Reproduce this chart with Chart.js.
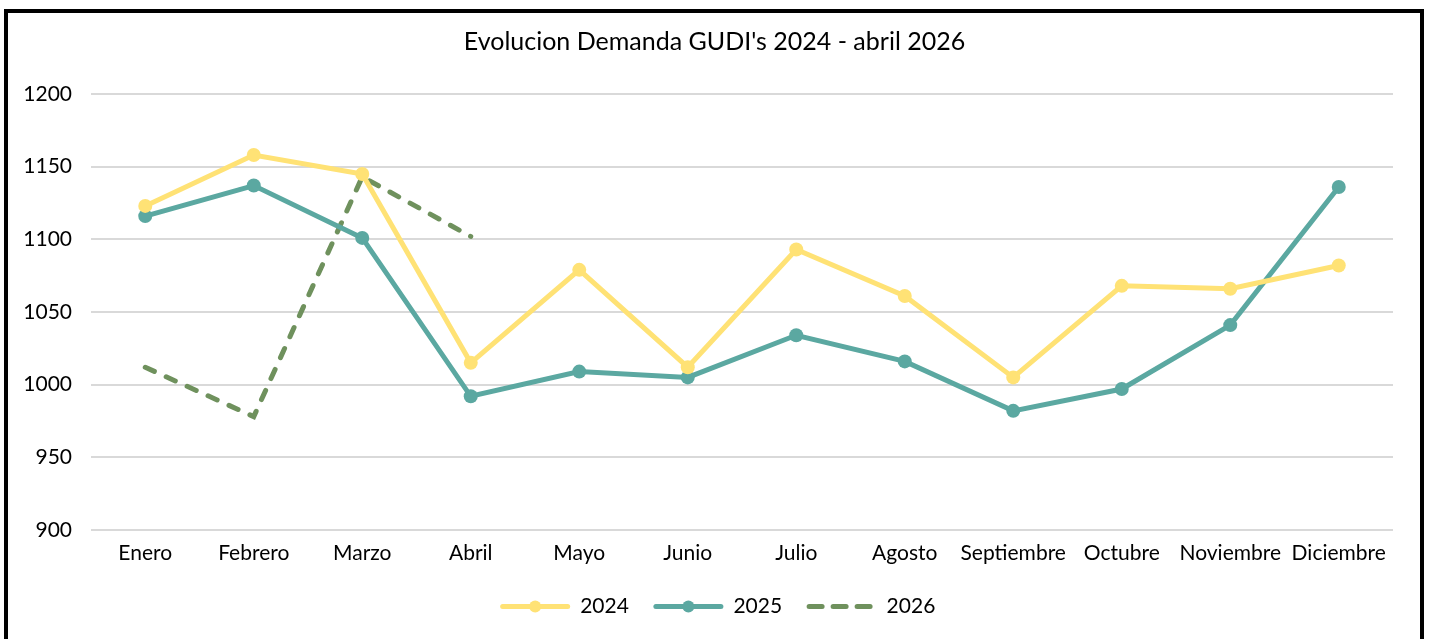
<!DOCTYPE html>
<html>
<head>
<meta charset="utf-8">
<script src="https://cdn.jsdelivr.net/npm/chart.js@4/dist/chart.umd.min.js"></script>
<style>
    html, body { margin: 0; padding: 0; background: #fff; overflow: hidden; }
    body { width: 1430px; height: 639px; position: relative; }
    .frame {
        position: absolute; left: 4px; top: 9px;
        width: 1412px; height: 660px;
        border: 4px solid #000;
    }
    .wrap { position: absolute; left: 0; top: 0; width: 1412px; height: 626px; }
</style>
</head>
<body>
<div class="frame">
    <div class="wrap"><canvas id="demandChart"></canvas></div>
</div>
<script>
// === Data ===
var months = ['Enero', 'Febrero', 'Marzo', 'Abril', 'Mayo', 'Junio', 'Julio',
              'Agosto', 'Septiembre', 'Octubre', 'Noviembre', 'Diciembre'];
var demand2024 = [1123, 1158, 1145, 1015, 1079, 1012, 1093, 1061, 1005, 1068, 1066, 1082];
var demand2025 = [1116, 1137, 1101, 992, 1009, 1005, 1034, 1016, 982, 997, 1041, 1136];
var demand2026 = [1012, 978, 1143, 1102];
var yTicks = [900, 950, 1000, 1050, 1100, 1150, 1200];

var FONT = "Lato, 'Open Sans', sans-serif";
var C2024 = '#ffe275';
var C2025 = '#5ba8a1';
var C2026 = '#6f915d';

// nudge title / legend so they sit where the original ones are
var TITLE_SHIFT = 14;
var LEGEND_SHIFT = 17;

var nudgeBoxes = {
    id: 'nudgeBoxes',
    afterUpdate: function(chart) {
        var lg = chart.legend;
        if (lg && lg.legendHitBoxes) {
            lg.left += LEGEND_SHIFT;
            lg.right += LEGEND_SHIFT;
            lg.legendHitBoxes.forEach(function(b) { b.left += LEGEND_SHIFT; });
        }
        var tb = chart.titleBlock;
        if (tb) {
            tb.left += TITLE_SHIFT;
            tb.right += TITLE_SHIFT;
        }
    }
};

// draws line + marker legend keys (Excel style) over the empty legend boxes
var legendKeys = {
    id: 'legendKeys',
    afterDraw: function(chart) {
        var legend = chart.legend;
        if (!legend || !legend.legendHitBoxes) return;
        var ctx = chart.ctx;
        legend.legendHitBoxes.forEach(function(box, i) {
            var ds = chart.data.datasets[i];
            var y = box.top + box.height / 2;
            var x0 = box.left + 3, x1 = box.left + 68;
            ctx.save();
            ctx.strokeStyle = ds.borderColor;
            ctx.lineWidth = 5;
            ctx.lineCap = 'round';
            ctx.setLineDash(ds.borderDash ? [13, 11] : []);
            ctx.beginPath();
            ctx.moveTo(x0, y);
            ctx.lineTo(x1, y);
            ctx.stroke();
            if (ds.pointRadius > 0) {
                ctx.setLineDash([]);
                ctx.fillStyle = ds.borderColor;
                ctx.beginPath();
                ctx.arc((x0 + x1) / 2, y, 6, 0, Math.PI * 2);
                ctx.fill();
            }
            ctx.restore();
        });
    }
};

var ctx = document.getElementById('demandChart').getContext('2d');
new Chart(ctx, {
    type: 'line',
    data: {
        labels: months,
        datasets: [{
            label: '2024',
            data: demand2024,
            borderColor: C2024,
            backgroundColor: C2024,
            borderWidth: 5,
            pointRadius: 7,
            pointHoverRadius: 7,
            pointBorderWidth: 0,
            tension: 0
        }, {
            label: '2025',
            data: demand2025,
            borderColor: C2025,
            backgroundColor: C2025,
            borderWidth: 5,
            pointRadius: 7,
            pointHoverRadius: 7,
            pointBorderWidth: 0,
            tension: 0
        }, {
            label: '2026',
            data: demand2026,
            borderColor: C2026,
            backgroundColor: C2026,
            borderWidth: 5,
            borderDash: [10, 13],
            borderCapStyle: 'round',
            pointRadius: 0,
            pointHoverRadius: 0,
            tension: 0
        }]
    },
    options: {
        responsive: true,
        maintainAspectRatio: false,
        animation: false,
        layout: { padding: { left: 0, right: 27, top: 0, bottom: 12 } },
        plugins: {
            title: {
                display: true,
                text: "Evolucion Demanda GUDI's 2024 - abril 2026",
                color: '#000',
                font: { family: FONT, size: 25, weight: 'normal' },
                padding: { top: 14, bottom: 37 }
            },
            legend: {
                position: 'bottom',
                labels: {
                    color: '#000',
                    font: { family: FONT, size: 21 },
                    boxWidth: 70,
                    boxHeight: 21,
                    padding: 24,
                    generateLabels: function(chart) {
                        return chart.data.datasets.map(function(ds, i) {
                            return {
                                text: ds.label,
                                fillStyle: 'rgba(0,0,0,0)',
                                strokeStyle: 'rgba(0,0,0,0)',
                                lineWidth: 0,
                                fontColor: '#000',
                                datasetIndex: i
                            };
                        });
                    }
                }
            },
            tooltip: { enabled: false }
        },
        scales: {
            x: {
                offset: true,
                grid: { display: false, offset: true },
                border: { display: false },
                ticks: {
                    color: '#000',
                    font: { family: FONT, size: 21 },
                    padding: 3,
                    maxRotation: 0,
                    autoSkip: false
                },
                afterFit: function(scale) { scale.height = 42; }
            },
            y: {
                min: 900,
                max: 1200,
                afterBuildTicks: function(scale) {
                    scale.ticks = yTicks.map(function(v) { return { value: v }; });
                },
                grid: { color: '#d9d9d9', lineWidth: 2, drawTicks: false },
                border: { display: false },
                ticks: {
                    color: '#000',
                    font: { family: FONT, size: 21 },
                    padding: 19,
                    callback: function(v) { return String(v); }
                },
                afterFit: function(scale) { scale.width = 83; }
            }
        }
    },
    plugins: [nudgeBoxes, legendKeys]
});
</script>
</body>
</html>
